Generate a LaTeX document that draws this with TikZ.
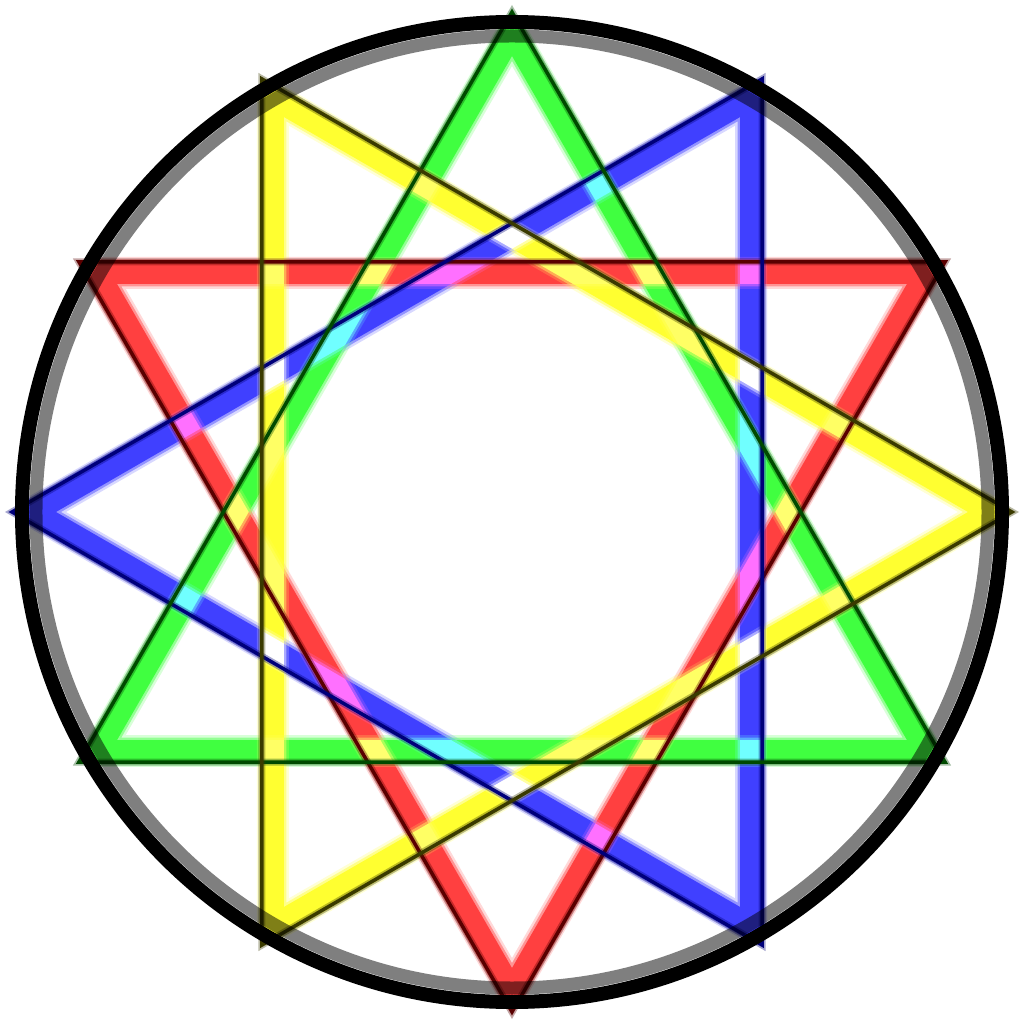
\documentclass[tikz,border=0pt]{standalone}
\usepackage{xcolor}
\usepackage{tikz}
\usetikzlibrary{calc}
\definecolor{bandG}{HTML}{40FF40}
\definecolor{bandR}{HTML}{FF4040}
\definecolor{bandB}{HTML}{4040FF}
\definecolor{bandY}{HTML}{FFFF30}
\definecolor{edgeG}{HTML}{004A00}
\definecolor{edgeR}{HTML}{5A0000}
\definecolor{edgeB}{HTML}{00007A}
\definecolor{edgeY}{HTML}{3A3A00}

\begin{document}
\begin{tikzpicture}[
  x=0.02cm, y=0.02cm,
  bandhaze/.style={line width=0.64cm, line join=round, opacity=0.2},
  bandsoft/.style={line width=0.54cm, line join=round, opacity=0.45},
  band/.style={line width=0.44cm, line join=miter},
  edgehaze/.style={line width=0.14cm, line join=miter, opacity=0.35},
  edge/.style={line width=0.07cm, line join=miter},
  ringshade/.style={draw=black, opacity=0.5, line width=0.26cm},
  ring/.style={draw=black, line width=0.28cm}
]
  \useasboundingbox (-512,-512) rectangle (512,512);
  \fill[white] (-512,-512) rectangle (512,512);

  % corners: outer triangle for the edge lines, inner one for the bands
  \foreach \t/\a in {g/90, r/270, b/180, y/0}
    \foreach \k in {1,2,3} {
      \coordinate (\t\k) at (\a+120*\k:500);
      \coordinate (\t\k i) at (\a+120*\k:478);
    }

  % glowing bands, added like light
  \begin{scope}[transparency group=isolated]
  \begin{scope}[blend mode=screen]
    \foreach \t/\c in {r/bandR, b/bandB, g/bandG, y/bandY} {
      \begin{scope}[transparency group]
        \draw[bandhaze, \c] (\t1i) -- (\t2i) -- (\t3i) -- cycle;
        \draw[bandsoft, \c] (\t1i) -- (\t2i) -- (\t3i) -- cycle;
        \draw[band, \c] (\t1i) -- (\t2i) -- (\t3i) -- cycle;
      \end{scope}
    }
  \end{scope}
  \end{scope}

  % dark edge lines
  \foreach \t/\c in {r/edgeR, b/edgeB, g/edgeG, y/edgeY} {
    \draw[edgehaze, \c] (\t1) -- (\t2) -- (\t3) -- cycle;
    \draw[edge, \c] (\t1) -- (\t2) -- (\t3) -- cycle;
  }

  % frame
  \draw[ringshade] (0,0) circle (476);
  \draw[ring] (0,0) circle (490);
\end{tikzpicture}
\end{document}
